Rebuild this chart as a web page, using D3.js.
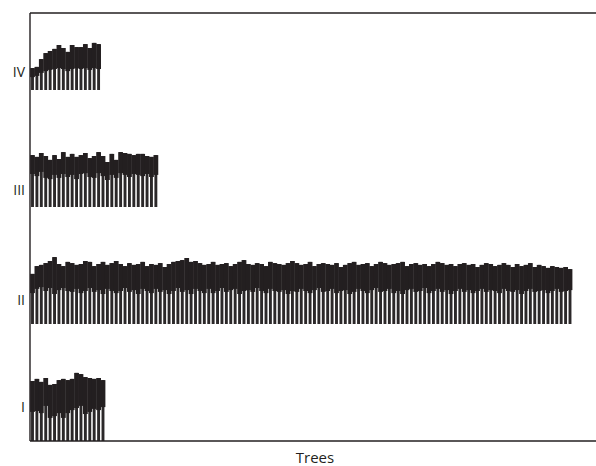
<!DOCTYPE html>
<html>
<head>
<meta charset="utf-8">
<script src="https://cdn.jsdelivr.net/npm/d3@7"></script>
<style>
  body { margin: 0; background: #fff; }
  svg { display: block; font-family: "Open Sans", sans-serif; }
</style>
</head>
<body>
<script>
const WIDTH = 596;
const HEIGHT = 466;
const MARGIN = { left: 30, right: 0, top: 13, bottom: 25 };
const INK = "#231f20";

// plots, top to bottom
const plots = ["IV", "III", "II", "I"];

// tree height (m) and crown base height (m), one value per tree
const heightIV = [7.3, 7.7, 10.3, 12.3, 13.0, 13.7, 15.0, 14.0, 12.7, 15.0, 14.3, 14.3, 15.3, 14.0, 15.7, 15.3];
const crownIV = [4.3, 4.7, 5.7, 6.3, 6.7, 7.0, 7.3, 7.0, 6.3, 7.0, 7.3, 7.0, 7.3, 6.7, 7.3, 7.0];

const heightIII = [17.3, 16.7, 18.0, 17.0, 15.7, 17.3, 16.0, 18.3, 16.7, 17.7, 16.7, 17.3, 18.0, 16.3, 17.0,
  18.3, 17.0, 15.0, 17.7, 15.7, 18.3, 18.0, 17.7, 17.3, 17.7, 17.7, 17.0, 16.7, 17.3];
const crownIII = [11.0, 10.3, 11.7, 9.7, 9.3, 10.7, 9.7, 11.0, 10.0, 10.7, 9.3, 11.0, 11.3, 10.0, 9.7,
  11.3, 10.3, 9.0, 10.7, 9.7, 11.3, 10.7, 10.0, 11.0, 10.7, 10.3, 11.0, 10.0, 10.7];

const heightII = [16.7, 19.3, 19.7, 20.3, 21.0, 22.3, 20.0, 19.3, 20.7, 20.3, 19.7, 20.0, 21.0, 20.7, 19.3, 20.0, 20.7, 19.7, 20.3, 21.0,
  20.0, 19.3, 20.3, 19.7, 20.0, 20.7, 19.3, 20.0, 19.7, 20.3, 19.0, 20.0, 20.7, 21.0, 21.3, 22.0, 20.7, 21.0, 20.3, 19.7,
  20.0, 20.7, 19.7, 20.0, 20.3, 19.3, 20.0, 20.7, 21.3, 20.0, 19.7, 20.3, 20.0, 19.3, 20.7, 20.3, 20.0, 19.7, 20.3, 21.0,
  20.3, 19.7, 20.0, 20.7, 19.3, 20.0, 20.3, 20.0, 19.7, 20.3, 19.0, 19.7, 20.3, 20.7, 19.7, 20.0, 20.3, 19.3, 20.0, 20.7,
  20.3, 19.7, 20.0, 20.3, 20.7, 19.3, 20.0, 20.3, 19.7, 20.0, 19.3, 20.0, 20.7, 20.3, 19.7, 20.0, 19.3, 20.0, 20.3, 19.7,
  20.0, 19.0, 19.7, 20.3, 20.0, 19.3, 19.7, 20.3, 19.7, 19.0, 20.0, 19.3, 19.7, 20.3, 19.0, 19.7, 19.3, 18.7, 19.3, 19.0,
  18.7, 19.0, 18.3];
const crownII = [10.3, 11.7, 12.3, 11.0, 12.0, 10.0, 11.3, 12.0, 11.0, 10.7, 11.7, 10.3, 11.0, 12.0, 10.7, 11.3, 10.0, 11.7, 11.0, 10.3,
  11.0, 12.0, 10.7, 11.3, 10.0, 11.7, 11.0, 10.3, 11.7, 10.7, 11.3, 10.0, 11.0, 12.0, 10.7, 11.3, 10.0, 11.7, 11.0, 10.3,
  11.7, 10.3, 11.0, 12.0, 10.7, 11.3, 11.7, 10.0, 11.0, 11.3, 10.7, 12.0, 11.0, 10.3, 11.7, 11.0, 10.7, 11.3, 10.0, 11.0,
  10.7, 11.7, 11.0, 10.3, 11.3, 12.0, 10.7, 11.0, 11.7, 10.3, 11.0, 11.3, 10.0, 10.7, 11.7, 11.0, 10.3, 11.3, 12.0, 10.7,
  11.0, 11.7, 10.3, 11.0, 10.0, 11.3, 11.7, 10.7, 11.0, 12.0, 10.3, 11.0, 11.7, 10.7, 11.3, 10.0, 11.0, 11.7, 10.7, 11.3,
  10.3, 11.0, 11.7, 10.7, 11.3, 11.0, 10.3, 11.7, 11.0, 10.7, 11.3, 10.0, 11.0, 11.7, 10.7, 11.0, 11.3, 10.3, 11.0, 11.7,
  10.7, 11.0, 11.3];

const heightI = [20.0, 20.7, 19.7, 21.0, 18.7, 19.0, 20.3, 20.7, 20.3, 20.7, 22.7, 22.3, 21.3, 21.0, 20.7, 21.0, 20.3];
const crownI = [9.7, 10.0, 9.3, 11.7, 7.7, 8.3, 9.3, 7.7, 9.3, 10.3, 11.0, 11.7, 9.0, 9.7, 10.7, 10.3, 11.3];

const heights = { IV: heightIV, III: heightIII, II: heightII, I: heightI };
const crowns = { IV: crownIV, III: crownIII, II: crownII, I: crownI };

const trees = plots.flatMap(p => heights[p].map((h, i) => ({ plot: p, index: i, height: h, crown: crowns[p][i] })));

const x = d3.scaleLinear()
  .domain([0, 122])
  .range([MARGIN.left + 2.5, 570]);

// ground line of each plot
const base = d3.scalePoint()
  .domain(plots)
  .range([90, HEIGHT - MARGIN.bottom]);

const labelY = d3.scaleOrdinal()
  .domain(plots)
  .range([72, 190, 300, 407]);

// metres to pixels above the ground line
const h = d3.scaleLinear().domain([0, 20]).range([0, 60]);

const svg = d3.select("body").append("svg")
  .attr("width", WIDTH)
  .attr("height", HEIGHT);

// trunks
svg.append("g")
  .attr("stroke", "#2b2829")
  .attr("stroke-width", 2.9)
  .selectAll("line")
  .data(trees)
  .join("line")
    .attr("x1", d => x(d.index))
    .attr("x2", d => x(d.index))
    .attr("y1", d => base(d.plot))
    .attr("y2", d => base(d.plot) - h(d.height));

// crowns
svg.append("g")
  .attr("fill", INK)
  .selectAll("rect")
  .data(trees)
  .join("rect")
    .attr("x", d => x(d.index) - 2.4)
    .attr("width", 4.8)
    .attr("y", d => base(d.plot) - h(d.height))
    .attr("height", d => h(d.height) - h(d.crown));

// frame
const frame = svg.append("g")
  .attr("stroke", INK)
  .attr("stroke-width", 1.4)
  .attr("fill", "none");
frame.append("line")
  .attr("x1", MARGIN.left).attr("x2", WIDTH)
  .attr("y1", MARGIN.top).attr("y2", MARGIN.top);
frame.append("line")
  .attr("x1", MARGIN.left).attr("x2", WIDTH)
  .attr("y1", HEIGHT - MARGIN.bottom).attr("y2", HEIGHT - MARGIN.bottom);
frame.append("line")
  .attr("x1", MARGIN.left).attr("x2", MARGIN.left)
  .attr("y1", MARGIN.top).attr("y2", HEIGHT - MARGIN.bottom);

svg.append("g")
  .attr("fill", INK)
  .style("font-size", "14px")
  .attr("text-anchor", "end")
  .selectAll("text")
  .data(plots)
  .join("text")
    .attr("x", 25)
    .attr("y", d => labelY(d))
    .attr("dy", "0.35em")
    .text(d => d);

svg.append("text")
  .attr("fill", INK)
  .style("font-size", "15px")
  .attr("text-anchor", "middle")
  .attr("x", 315)
  .attr("y", 463)
  .text("Trees");
</script>
</body>
</html>
